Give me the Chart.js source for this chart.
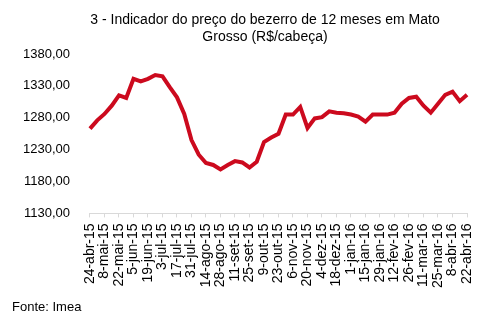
<!DOCTYPE html>
<html>
<head>
<meta charset="utf-8">
<script src="https://cdn.jsdelivr.net/npm/chart.js@4.4.0/dist/chart.umd.min.js"></script>
<style>
  html, body { margin: 0; padding: 0; background: #fff; }
  #wrap { width: 497px; height: 324px; }
</style>
</head>
<body>
<div id="wrap"><canvas id="myChart" width="497" height="324"></canvas></div>
<script>
// weekly price, R$/cabeça
var weeks = ['24-abr-15', '1-mai-15', '8-mai-15', '15-mai-15', '22-mai-15', '29-mai-15',
    '5-jun-15', '12-jun-15', '19-jun-15', '26-jun-15', '3-jul-15', '10-jul-15', '17-jul-15',
    '24-jul-15', '31-jul-15', '7-ago-15', '14-ago-15', '21-ago-15', '28-ago-15', '4-set-15',
    '11-set-15', '18-set-15', '25-set-15', '2-out-15', '9-out-15', '16-out-15', '23-out-15',
    '30-out-15', '6-nov-15', '13-nov-15', '20-nov-15', '27-nov-15', '4-dez-15', '11-dez-15',
    '18-dez-15', '25-dez-15', '1-jan-16', '8-jan-16', '15-jan-16', '22-jan-16', '29-jan-16',
    '5-fev-16', '12-fev-16', '19-fev-16', '26-fev-16', '4-mar-16', '11-mar-16', '18-mar-16',
    '25-mar-16', '1-abr-16', '8-abr-16', '15-abr-16', '22-abr-16'];
var prices = [1263, 1276, 1286, 1299, 1315, 1311, 1341, 1337, 1341, 1347, 1345, 1328, 1312,
    1286, 1245, 1222, 1209, 1206, 1199, 1206, 1212, 1210, 1202, 1211, 1242, 1249, 1255,
    1285, 1285, 1297, 1264, 1279, 1281, 1290, 1288, 1287, 1285, 1282, 1274, 1285, 1285,
    1285, 1288, 1302, 1311, 1313, 1299, 1288, 1302, 1316, 1321, 1306, 1316];
var yMin = 1130, yMax = 1380, yStep = 50;

var titleLines = ['3 - Indicador do preço do bezerro de 12 meses em Mato', 'Grosso (R$/cabeça)'];
var source = 'Fonte: Imea';

var fontName = '"Liberation Sans", Arial, sans-serif';

// title on top, source line at the bottom
var textPlugin = {
    id: 'texts',
    afterDraw: function (chart) {
        var ctx = chart.ctx;
        ctx.save();
        ctx.fillStyle = '#000';
        ctx.font = '14px ' + fontName;
        ctx.textAlign = 'center';
        ctx.textBaseline = 'middle';
        ctx.fillText(titleLines[0], 265, 20);
        ctx.fillText(titleLines[1], 265, 37);
        ctx.font = '13px ' + fontName;
        ctx.textAlign = 'left';
        ctx.fillText(source, 12, 307);
        ctx.restore();
    }
};

var ctx = document.getElementById('myChart').getContext('2d');
var lineChart = new Chart(ctx, {
    type: 'line',
    data: {
        labels: weeks,
        datasets: [{
            data: prices,
            borderColor: '#cc0a1e',
            borderWidth: 4,
            pointRadius: 0,
            tension: 0,
            fill: false
        }]
    },
    options: {
        responsive: false,
        animation: false,
        layout: {
            padding: { top: 54, left: 11, right: 30, bottom: 30 }
        },
        plugins: {
            legend: { display: false },
            tooltip: { enabled: false }
        },
        scales: {
            x: {
                offset: false,
                afterBuildTicks: function (scale) {
                    // a tick every second week
                    scale.ticks = scale.ticks.filter(function (t, i) {
                        return i % 2 == 0;
                    });
                },
                grid: {
                    drawOnChartArea: false,
                    drawTicks: true,
                    tickLength: 4,
                    color: '#d9d9d9'
                },
                border: { display: true, color: '#d9d9d9' },
                ticks: {
                    autoSkip: false,
                    maxRotation: 90,
                    minRotation: 90,
                    padding: 6,
                    color: '#000',
                    font: { family: fontName, size: 14 }
                }
            },
            y: {
                min: yMin,
                max: yMax,
                grid: { display: false },
                border: { display: false },
                ticks: {
                    stepSize: yStep,
                    padding: 12,
                    color: '#000',
                    font: { family: fontName, size: 13 },
                    callback: function (v) {
                        return v.toFixed(2).replace('.', ',');
                    }
                }
            }
        }
    },
    plugins: [textPlugin]
});
</script>
</body>
</html>
